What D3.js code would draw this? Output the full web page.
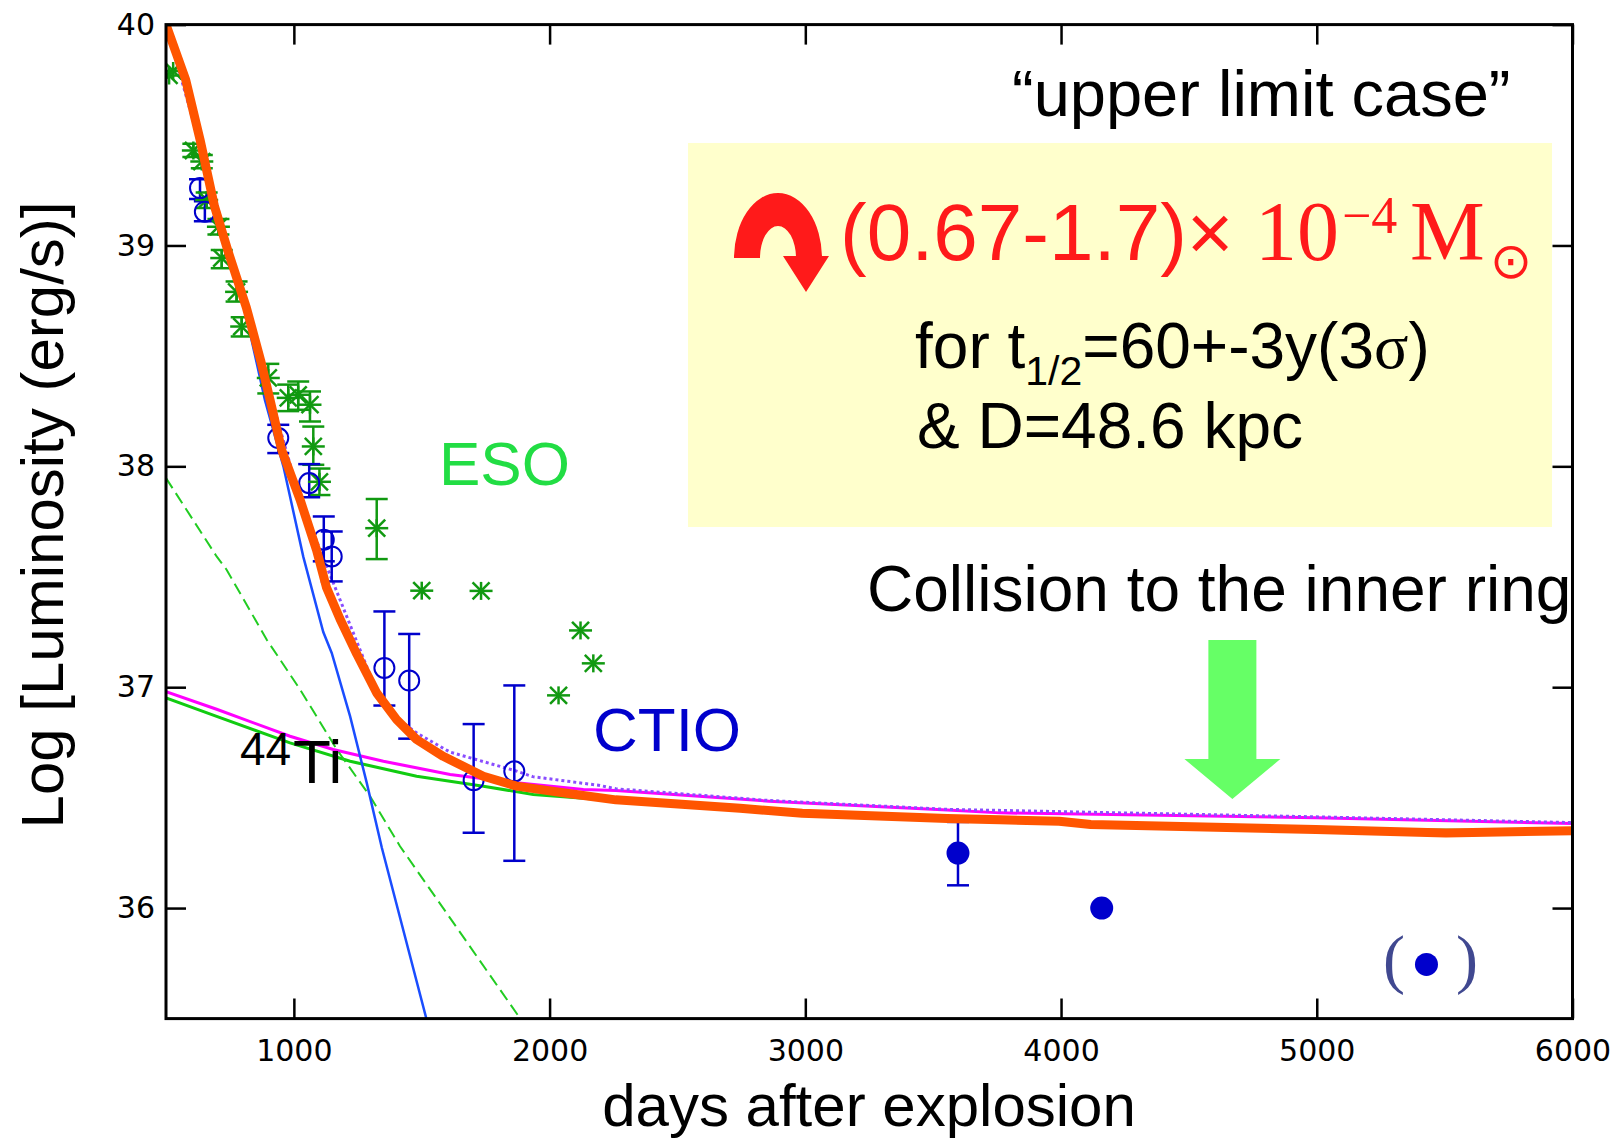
<!DOCTYPE html>
<html>
<head>
<meta charset="utf-8">
<script src="https://cdn.jsdelivr.net/npm/d3@7"></script>
<style>
  body { margin: 0; background: #fff; }
</style>
</head>
<body>
<svg id="chart" width="1619" height="1142" font-family="'Liberation Sans', Arial, sans-serif"></svg>
<script>
// model curves, [days, log L]
const totalModel = [[500,40.0],[577,39.75],[633,39.48],[689,39.18],[745,38.965],[814,38.72],[870,38.48],[907,38.30],[952,38.075],[1024,37.85],[1089,37.62],[1128,37.45],[1180,37.31],[1246,37.15],[1324,36.974],[1402,36.853],[1480,36.763],[1584,36.687],[1741,36.597],[1871,36.552],[2067,36.52],[2259,36.49],[2745,36.452],[2988,36.429],[3555,36.405],[3761,36.40],[3993,36.393],[4116,36.378],[4996,36.356],[5505,36.34],[6000,36.35]];
const co56Line = [[500,39.99],[577,39.74],[633,39.47],[689,39.17],[745,38.95],[814,38.68],[887,38.30],[959,38.0],[1037,37.59],[1115,37.25],[1148,37.155],[1220,36.868],[1285,36.567],[1344,36.273],[1518,35.5]];
const dashedLine = [[500,37.947],[698,37.592],[737,37.532],[894,37.215],[1024,36.99],[1168,36.718],[1298,36.506],[1415,36.28],[1885,35.5]];
const magentaLine = [[500,36.98],[698,36.90],[985,36.778],[1154,36.718],[1350,36.665],[1611,36.605],[1871,36.567],[2132,36.537],[2259,36.532],[2858,36.484],[3555,36.444],[3761,36.431],[4996,36.409],[6000,36.383]];
const greenLine = [[500,36.952],[698,36.868],[985,36.748],[1220,36.665],[1480,36.597],[1741,36.552],[1936,36.514],[2197,36.491],[2745,36.452],[3555,36.405],[4996,36.356],[6000,36.35]];
const dottedLine = [[500,40.0],[1024,37.85],[1324,36.98],[1402,36.86],[1480,36.793],[1611,36.706],[1675,36.685],[1871,36.62],[1934,36.595],[2197,36.555],[2259,36.54],[2858,36.487],[3555,36.447],[4996,36.413],[6000,36.387]];

// ESO points: [days, log L, low, high]
const esoPoints = [[512,39.77,null,null],[528,39.79,null,null],[607,39.43,39.40,39.46],[640,39.38,39.35,39.41],[659,39.206,39.17,39.24],[705,39.085,39.05,39.12],[718,38.943,38.897,38.98],[776,38.79,38.746,38.837],[796,38.633,38.588,38.675],[900,38.40,38.33,38.464],[978,38.31,38.25,38.37],[1017,38.324,38.256,38.384],[1063,38.279,38.203,38.339],[1076,38.09,38.007,38.18],[1100,37.93,37.87,37.99],[1324,37.72,37.58,37.852],[1500,37.437,null,null],[1732,37.436,null,null],[2035,36.963,null,null],[2121,37.257,null,null],[2171,37.108,null,null]];
// CTIO points: [days, log L, low, high]
const ctioPoints = [[633,39.26,39.21,39.30],[652,39.153,39.11,39.20],[939,38.128,38.06,38.188],[1060,37.924,37.86,38.01],[1117,37.668,37.57,37.773],[1148,37.592,37.479,37.705],[1354,37.087,36.917,37.343],[1451,37.03,36.767,37.241],[1703,36.579,36.341,36.833],[1862,36.619,36.214,37.008]];
const lateCtio = [[3597,36.249,36.103,36.39],[4159,36.0,null,null],[5429,35.745,null,null]];

const xTicks = [1000, 2000, 3000, 4000, 5000, 6000];
const yTicks = [36, 37, 38, 39, 40];
const collisionDay = 4670;

const svg = d3.select("#chart");
svg.append("rect").attr("width", 1619).attr("height", 1142).attr("fill", "#fff");

const x = d3.scaleLinear().domain([500, 6000]).range([166, 1572.5]);
const y = d3.scaleLinear().domain([35.5, 40]).range([1018.5, 24.6]);

// yellow box behind everything
svg.append("rect")
    .attr("x", 688).attr("y", 143)
    .attr("width", 864).attr("height", 384)
    .attr("fill", "#ffffcc");

svg.append("clipPath").attr("id", "plotclip")
    .append("rect").attr("x", 166).attr("y", 24.6).attr("width", 1406.5).attr("height", 994);

const line = d3.line().x(d => x(d[0])).y(d => y(d[1]));
const plot = svg.append("g").attr("clip-path", "url(#plotclip)");

plot.append("path").datum(greenLine).attr("d", line)
    .attr("fill", "none").attr("stroke", "#11cc11").attr("stroke-width", 3);
plot.append("path").datum(magentaLine).attr("d", line)
    .attr("fill", "none").attr("stroke", "#ff00ff").attr("stroke-width", 3);
plot.append("path").datum(dottedLine).attr("d", line)
    .attr("fill", "none").attr("stroke", "#8a4dff").attr("stroke-width", 3)
    .attr("stroke-dasharray", "3,3");
plot.append("path").datum(dashedLine).attr("d", line)
    .attr("fill", "none").attr("stroke", "#22cc22").attr("stroke-width", 2)
    .attr("stroke-dasharray", "12,6");
plot.append("path").datum(co56Line).attr("d", line)
    .attr("fill", "none").attr("stroke", "#1a4dff").attr("stroke-width", 2.5);

// error bars
function errorBars(data, color) {
    const g = plot.append("g").attr("stroke", color).attr("stroke-width", 2.5);
    const withErr = data.filter(d => d[2] !== null);
    g.selectAll(".v").data(withErr).join("line").attr("class", "v")
        .attr("x1", d => x(d[0])).attr("x2", d => x(d[0]))
        .attr("y1", d => y(d[2])).attr("y2", d => y(d[3]));
    g.selectAll(".lo").data(withErr).join("line").attr("class", "lo")
        .attr("x1", d => x(d[0]) - 11).attr("x2", d => x(d[0]) + 11)
        .attr("y1", d => y(d[2])).attr("y2", d => y(d[2]));
    g.selectAll(".hi").data(withErr).join("line").attr("class", "hi")
        .attr("x1", d => x(d[0]) - 11).attr("x2", d => x(d[0]) + 11)
        .attr("y1", d => y(d[3])).attr("y2", d => y(d[3]));
}
errorBars(esoPoints, "#119911");
errorBars(ctioPoints, "#0000cc");
errorBars(lateCtio, "#0000cc");

// ESO asterisks
const star = plot.append("g").attr("stroke", "#119911").attr("stroke-width", 2.5)
    .selectAll("g").data(esoPoints).join("g")
    .attr("transform", d => `translate(${x(d[0])},${y(d[1])})`);
star.append("line").attr("x1", -11.5).attr("x2", 11.5);
star.append("line").attr("y1", -9).attr("y2", 9);
star.append("line").attr("x1", -8.5).attr("y1", -8.5).attr("x2", 8.5).attr("y2", 8.5);
star.append("line").attr("x1", -8.5).attr("y1", 8.5).attr("x2", 8.5).attr("y2", -8.5);

plot.append("g").selectAll("circle").data(ctioPoints).join("circle")
    .attr("cx", d => x(d[0])).attr("cy", d => y(d[1])).attr("r", 10)
    .attr("fill", "none").attr("stroke", "#0000cc").attr("stroke-width", 2);

plot.append("g").selectAll("circle").data(lateCtio).join("circle")
    .attr("cx", d => x(d[0])).attr("cy", d => y(d[1])).attr("r", 11.5)
    .attr("fill", "#0000cc");

// total on top
plot.append("path").datum(totalModel).attr("d", line)
    .attr("fill", "none").attr("stroke", "#ff5500").attr("stroke-width", 9)
    .attr("stroke-linejoin", "round");

// axes, ticks inward
const tickFont = "'DejaVu Sans', sans-serif";
svg.append("g").attr("transform", "translate(0,1018.5)")
    .call(d3.axisBottom(x).tickValues(xTicks).tickSize(-20).tickSizeOuter(0).tickPadding(21).tickFormat(d3.format("d")));
svg.append("g").attr("transform", "translate(166,0)")
    .call(d3.axisLeft(y).tickValues(yTicks).tickSize(-20).tickSizeOuter(0).tickPadding(11).tickFormat(d3.format("d")));
svg.append("g").attr("transform", "translate(0,24.6)")
    .call(d3.axisTop(x).tickValues(xTicks).tickSize(-20).tickSizeOuter(0).tickFormat(""));
svg.append("g").attr("transform", "translate(1572.5,0)")
    .call(d3.axisRight(y).tickValues(yTicks).tickSize(-20).tickSizeOuter(0).tickFormat(""));
svg.selectAll(".domain").remove();
svg.selectAll(".tick line").attr("stroke", "#000").attr("stroke-width", 2.5);
svg.selectAll(".tick text").attr("font-family", tickFont).attr("font-size", 30).attr("fill", "#000");
svg.selectAll("g").filter(function() { return this.getAttribute("font-family") === "sans-serif"; })
    .attr("font-family", null).attr("font-size", null);

svg.append("rect")
    .attr("x", 166).attr("y", 24.6).attr("width", 1406.5).attr("height", 994)
    .attr("fill", "none").attr("stroke", "#000").attr("stroke-width", 3);

svg.append("text").attr("x", 869).attr("y", 1126).attr("text-anchor", "middle")
    .attr("font-size", 60).text("days after explosion");
svg.append("text").attr("transform", "translate(63,515) rotate(-90)").attr("text-anchor", "middle")
    .attr("font-size", 60).text("Log [Luminosity (erg/s)]");

// annotations
svg.append("text").attr("x", 1012).attr("y", 116).attr("font-size", 65).text("\u201cupper limit case\u201d");
svg.append("text").attr("x", 439).attr("y", 485).attr("font-size", 62).attr("fill", "#22dd44").text("ESO");
svg.append("text").attr("x", 593).attr("y", 751).attr("font-size", 62).attr("fill", "#0000cc").text("CTIO");
svg.append("text").attr("x", 867).attr("y", 611).attr("font-size", 64).text("Collision to the inner ring");
svg.append("text").attr("x", 240).attr("y", 765).attr("font-size", 46).text("44");
svg.append("text").attr("x", 293).attr("y", 783).attr("font-size", 62).text("Ti");

const serif = "'Liberation Serif', 'Times New Roman', serif";
svg.append("text").attr("x", 1383).attr("y", 981).attr("font-family", serif).attr("font-size", 66).attr("fill", "#404890").text("(");
svg.append("text").attr("x", 1456).attr("y", 981).attr("font-family", serif).attr("font-size", 66).attr("fill", "#404890").text(")");

// mass result in red
const red = "#ff1a1a";
svg.append("path")
    .attr("d", "M734,258 A44,65 0 0 1 822,258 L796,258 A18,32 0 0 0 760,258 Z M783,256 L829,256 L806,292 Z")
    .attr("fill", red);
svg.append("text").attr("x", 840).attr("y", 260).attr("font-size", 80).attr("fill", red).text("(0.67-1.7)\u00d7");
svg.append("text").attr("x", 1255).attr("y", 260).attr("font-family", serif).attr("font-size", 84).attr("fill", red).text("10");
svg.append("text").attr("x", 1342).attr("y", 233).attr("font-family", serif).attr("font-size", 52).attr("fill", red).text("\u22124");
svg.append("text").attr("x", 1410).attr("y", 260).attr("font-family", serif).attr("font-size", 84).attr("fill", red).text("M");
svg.append("text").attr("x", 1511).attr("y", 278).attr("text-anchor", "middle").attr("font-family", "'DejaVu Sans', sans-serif")
    .attr("font-size", 50).attr("fill", red).text("\u2299");

const info = svg.append("text").attr("x", 915).attr("y", 368).attr("font-size", 64);
info.append("tspan").text("for t");
info.append("tspan").attr("font-size", 41).attr("dy", 17).text("1/2");
info.append("tspan").attr("dy", -17).text("=60+-3y(3");
info.append("tspan").attr("font-family", serif).text("\u03c3");
info.append("tspan").text(")");
svg.append("text").attr("x", 917).attr("y", 448).attr("font-size", 64).text("& D=48.6 kpc");

// arrow to the collision epoch
const ax = x(collisionDay);
svg.append("path")
    .attr("d", `M${ax - 24},640 L${ax + 24},640 L${ax + 24},759 L${ax + 48},759 L${ax},799 L${ax - 48},759 L${ax - 24},759 Z`)
    .attr("fill", "#66ff66");
</script>
</body>
</html>
